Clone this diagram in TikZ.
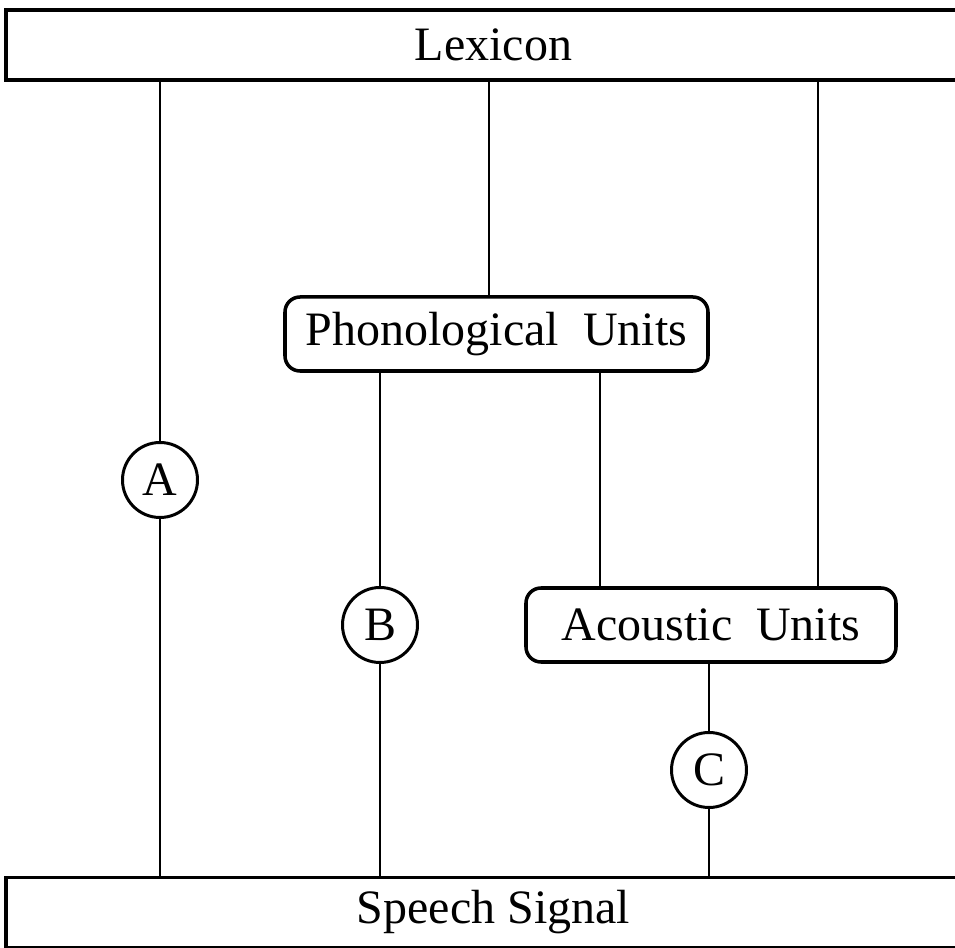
\documentclass[tikz,border=0pt]{standalone}
\usepackage{fontspec}
\setmainfont{Liberation Serif}
\usetikzlibrary{positioning}

\begin{document}
\begin{tikzpicture}[
    line width=1.7pt,
    every node/.style={font=\fontsize{27.3}{32}\selectfont},
    layer/.style={draw, line width=2pt, minimum width=19.5cm, minimum height=1.4cm, inner sep=0},
    unitbox/.style={draw, line width=2pt, rounded corners=0.3cm, minimum height=1.48cm, inner sep=0},
    route/.style={circle, draw, minimum size=1.5cm, inner sep=0}
]
    \useasboundingbox (0,0) rectangle (19.1,18.96);

    % lexicon
    \node[layer] (lex) at (9.87,18.06) {Lexicon};

    % speech signal
    \node[layer] (sig) at (9.87,0.71) {Speech Signal};

    % units
    \node[unitbox, minimum width=8.46cm] (phon) at (9.93,12.28) {Phonological~~Units};
    \node[unitbox, minimum width=7.4cm] (acou) at (14.22,6.46) {Acoustic~~Units};

    % A, B, C
    \node[route] (a) at (3.2,9.36) {A};
    \node[route] (b) at (7.6,6.46) {B};
    \node[route] (c) at (14.18,3.56) {C};

    % A
    \draw (a |- lex.south) -- (a);
    \draw (a) -- (a |- sig.north);

    % lexicon to units
    \coordinate (lp) at (9.78,0);
    \coordinate (la) at (16.36,0);
    \draw (lp |- lex.south) -- (lp |- phon.north);
    \draw (la |- lex.south) -- (la |- acou.north);

    % B
    \draw (b |- phon.south) -- (b);
    \draw (b) -- (b |- sig.north);

    % phonological to acoustic
    \coordinate (lq) at (12.0,0);
    \draw (lq |- phon.south) -- (lq |- acou.north);

    % C
    \draw (c |- acou.south) -- (c);
    \draw (c) -- (c |- sig.north);
\end{tikzpicture}
\end{document}
